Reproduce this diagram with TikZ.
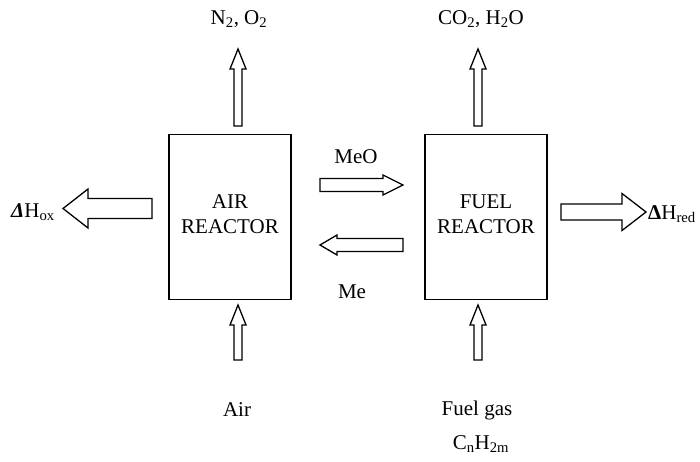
\documentclass[tikz,border=0pt]{standalone}
\usepackage{fontspec}
\setmainfont{Liberation Serif}
\usetikzlibrary{calc}

% hollow block arrow: from, to, half shaft, half head, head length
\newcommand{\blockarrow}[5]{%
  \coordinate (ba) at ($(#2)!#5!(#1)$);
  \draw[flowline] ($(#1)!#3!90:(#2)$) -- ($(ba)!#3!90:(#2)$) -- ($(ba)!#4!90:(#2)$) -- (#2)
    -- ($(ba)!#4!-90:(#2)$) -- ($(ba)!#3!-90:(#2)$) -- ($(#1)!#3!-90:(#2)$) -- cycle;
}

\begin{document}
\begin{tikzpicture}[
    x=1pt, y=-1pt,
    font=\fontsize{21}{25}\selectfont,
    reactor/.style={draw, line width=1.5pt, minimum width=122pt, minimum height=165pt, inner sep=0pt},
    flowline/.style={line width=1.3pt, line join=miter, fill=white},
    lbl/.style={inner sep=0pt},
]
    \useasboundingbox (0,0) rectangle (700,462);

    % Reactors
    \node[reactor] (air)  at (230,217) {};
    \node[reactor] (fuel) at (486,217) {};
    \node[lbl, align=center] (airtxt)  at ([yshift=3pt]air.center)  {AIR\\REACTOR};
    \node[lbl, align=center] (fueltxt) at ([yshift=3pt]fuel.center) {FUEL\\REACTOR};

    % Stream labels
    \node[lbl] (offgas)  at (239,19)  {N\textsubscript{2}, O\textsubscript{2}};
    \node[lbl] (exhaust) at (481,19)  {CO\textsubscript{2}, H\textsubscript{2}O};
    \node[lbl] (airin)   at (237,410) {Air};
    \node[lbl] (fuelin)  at (477,410) {Fuel gas};
    \node[lbl] (formula) at (481,444) {C\textsubscript{n}H\textsubscript{2m}};
    \node[lbl] (meo)     at (356,157) {MeO};
    \node[lbl] (me)      at (352,292) {Me};
    \node[lbl] (hox)     at (33,212)  {\textbf{\textit{Δ}}H\textsubscript{ox}};
    \node[lbl, anchor=west] (hred) at (648,214) {\textbf{Δ}H\textsubscript{red}};

    % Arrow end points
    \coordinate (airup0)   at (238,126);
    \coordinate (airup1)   at (238,49);
    \coordinate (fuelup0)  at (478,126);
    \coordinate (fuelup1)  at (478,49);
    \coordinate (airin0)   at (238,360);
    \coordinate (airin1)   at (238,305);
    \coordinate (fuelin0)  at (478,360);
    \coordinate (fuelin1)  at (478,305);
    \coordinate (hox0)     at (152,208.5);
    \coordinate (hox1)     at (63,208.5);
    \coordinate (hred0)    at (561,212);
    \coordinate (hred1)    at (646,212);
    \coordinate (meo0)     at (320,185);
    \coordinate (meo1)     at (403,185);
    \coordinate (me0)      at (403,245);
    \coordinate (me1)      at (320,245);

    % Flows
    \blockarrow{airup0}{airup1}{4pt}{8pt}{20pt}
    \blockarrow{fuelup0}{fuelup1}{4pt}{8pt}{20pt}
    \blockarrow{airin0}{airin1}{4pt}{8pt}{20pt}
    \blockarrow{fuelin0}{fuelin1}{4pt}{8pt}{20pt}
    \blockarrow{hox0}{hox1}{10pt}{19.5pt}{25pt}
    \blockarrow{hred0}{hred1}{8pt}{18.5pt}{24pt}
    \blockarrow{meo0}{meo1}{6.5pt}{10pt}{20pt}
    \blockarrow{me0}{me1}{6.5pt}{10pt}{17pt}
\end{tikzpicture}
\end{document}
